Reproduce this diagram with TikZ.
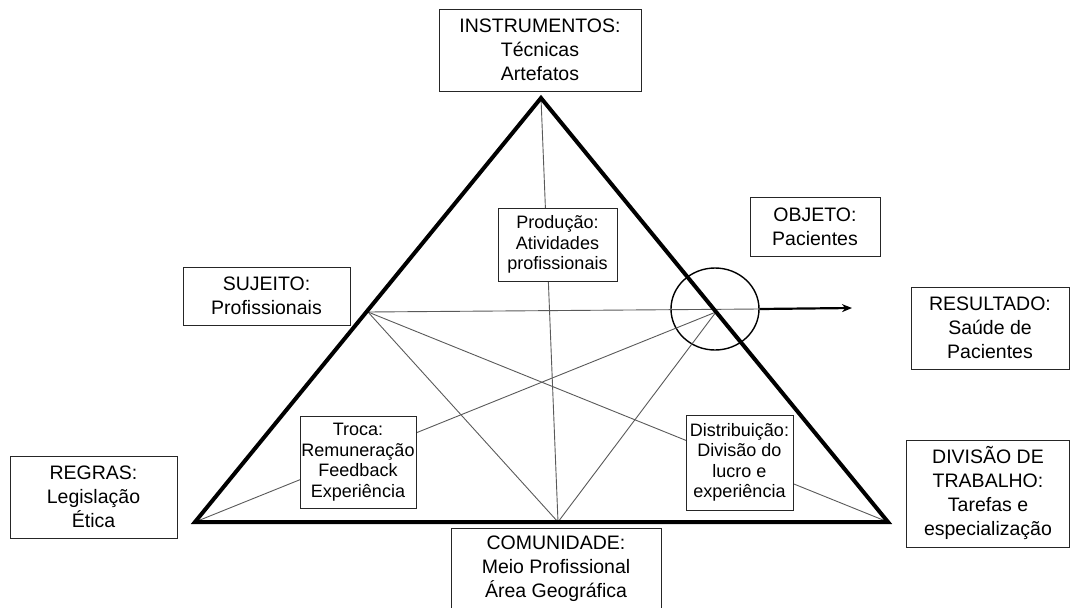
\documentclass[tikz,border=0pt]{standalone}
\usepackage{fontspec}
\setmainfont{Liberation Sans}
\usetikzlibrary{shapes.geometric,arrows.meta}

\begin{document}
\begin{tikzpicture}[x=1pt,y=-1pt,>={Stealth[length=10pt,width=8pt]},
  every node/.style={font=\fontsize{19.5}{24}\selectfont,align=center},
  box/.style={draw=black!85,line width=1pt,fill=white,inner sep=0pt},
  inbox/.style={box,font=\fontsize{18}{20.5}\selectfont},
  link/.style={draw=black!65,line width=0.9pt},
  side/.style={draw=black,line width=4pt,line join=miter}]
\useasboundingbox (0,0) rectangle (1072,608);
\coordinate (apex) at (541,98);
\coordinate (bl) at (195,522);
\coordinate (br) at (888,522);
\coordinate (mid) at (558,522);
\coordinate (suj) at (368,312);
\coordinate (obj) at (716,312);
\coordinate (out) at (852,308);
\node[draw, ellipse, line width=1.4pt, minimum width=88, minimum height=82, inner sep=0pt] (focus) at (715,309) {};
% linhas internas
\path[link] (apex) -- (mid);
\path[link] (suj) -- (focus.east);
\path[link] (suj) -- (mid);
\path[link] (suj) -- (br);
\path[link] (obj) -- (mid);
\path[link] (obj) -- (bl);
\draw[->, line width=2.2pt] (focus.east) -- (out);
\draw[side] (apex) -- (br) -- (bl) -- cycle;
% caixas
\node[box, minimum width=202, minimum height=82] (instr) at (540,50) {INSTRUMENTOS:\\Técnicas\\Artefatos};
\node[inbox, minimum width=119, minimum height=73] (prod) at (557.5,244.5) {Produção:\\Atividades\\profissionais};
\node[box, minimum width=130, minimum height=59] (objeto) at (815,226.5) {OBJETO:\\Pacientes};
\node[box, minimum width=167, minimum height=58] (sujeito) at (266.5,296) {SUJEITO:\\Profissionais};
\node[box, minimum width=158, minimum height=82] (result) at (990,328) {RESULTADO:\\Saúde de\\Pacientes};
\node[box, minimum width=167, minimum height=82] (regras) at (93.5,497) {REGRAS:\\Legislação\\Ética};
\node[inbox, minimum width=116, minimum height=92] (troca) at (358,462) {Troca:\\Remuneração\\Feedback\\Experiência};
\node[inbox, minimum width=107, minimum height=95] (distr) at (739.5,462.5) {Distribuição:\\Divisão do\\lucro e\\experiência};
\node[box, minimum width=210, minimum height=82] (comun) at (556,569) {COMUNIDADE:\\Meio Profissional\\Área Geográfica};
\node[box, minimum width=163, minimum height=107] (divisao) at (988,493.5) {DIVISÃO DE\\TRABALHO:\\Tarefas e\\especialização};
\end{tikzpicture}
\end{document}
